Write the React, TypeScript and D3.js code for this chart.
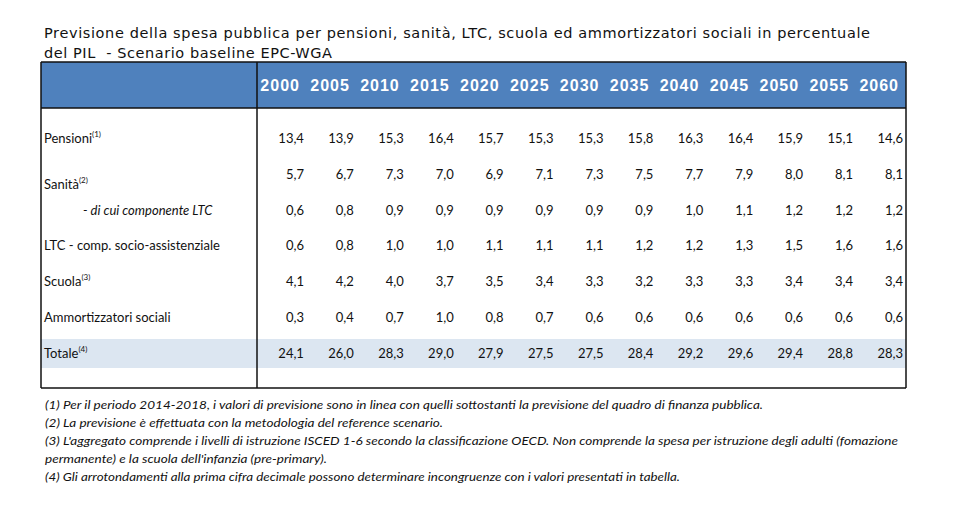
import React from "react";
import * as d3 from "d3";

const titleLines = [
  "Previsione della spesa pubblica per pensioni, sanità, LTC, scuola ed ammortizzatori sociali in percentuale",
  "del PIL  - Scenario baseline EPC-WGA",
];

const years = ["2000", "2005", "2010", "2015", "2020", "2025", "2030", "2035", "2040", "2045", "2050", "2055", "2060"];

const rowLabels = [
  "Pensioni",
  "Sanità",
  "- di cui componente LTC",
  "LTC - comp. socio-assistenziale",
  "Scuola",
  "Ammortizzatori sociali",
  "Totale",
];
const rowNotes = ["(1)", "(2)", "", "", "(3)", "", "(4)"];

const pensioni = [13.4, 13.9, 15.3, 16.4, 15.7, 15.3, 15.3, 15.8, 16.3, 16.4, 15.9, 15.1, 14.6];
const sanita = [5.7, 6.7, 7.3, 7.0, 6.9, 7.1, 7.3, 7.5, 7.7, 7.9, 8.0, 8.1, 8.1];
const diCuiLTC = [0.6, 0.8, 0.9, 0.9, 0.9, 0.9, 0.9, 0.9, 1.0, 1.1, 1.2, 1.2, 1.2];
const ltcSocio = [0.6, 0.8, 1.0, 1.0, 1.1, 1.1, 1.1, 1.2, 1.2, 1.3, 1.5, 1.6, 1.6];
const scuola = [4.1, 4.2, 4.0, 3.7, 3.5, 3.4, 3.3, 3.2, 3.3, 3.3, 3.4, 3.4, 3.4];
const ammortizzatori = [0.3, 0.4, 0.7, 1.0, 0.8, 0.7, 0.6, 0.6, 0.6, 0.6, 0.6, 0.6, 0.6];
const totale = [24.1, 26.0, 28.3, 29.0, 27.9, 27.5, 27.5, 28.4, 29.2, 29.6, 29.4, 28.8, 28.3];

const rows = [pensioni, sanita, diCuiLTC, ltcSocio, scuola, ammortizzatori, totale];

const footnotes = [
  "(1) Per il periodo 2014-2018, i valori di previsione sono in linea con quelli sottostanti la previsione del quadro di finanza pubblica.",
  "(2) La previsione è effettuata con la metodologia del reference scenario.",
  "(3) L'aggregato comprende i livelli di istruzione ISCED 1-6 secondo la classificazione OECD. Non comprende la spesa per istruzione degli adulti (fomazione",
  "permanente) e la scuola dell'infanzia (pre-primary).",
  "(4) Gli arrotondamenti alla prima cifra decimale possono determinare incongruenze con i valori presentati in tabella.",
];
const footnoteWidths = [718, 398, 853, 282, 635];

const fmt = (v: number) => v.toFixed(1).replace(".", ",");

export default function App() {
  const W = 978;
  const H = 528;
  const left = 41;
  const right = 906;
  const top = 62;
  const headerBottom = 108;
  const bottom = 388;
  const divider = 257;

  const x = d3.scaleBand<string>().domain(years).range([divider, right]);
  const y = d3.scalePoint<string>().domain(rowLabels).range([143, 357.5]);
  const fy = d3.scalePoint<string>().domain(footnotes).range([409, 481]);

  const dataFont = "Lato, 'Open Sans', sans-serif";
  const totY = y("Totale")!;

  return (
    <svg width={W} height={H} style={{ position: "absolute", left: 0, top: 0, background: "#fff" }}>
      <rect x={0} y={0} width={W} height={H} fill="#fff" />
      {titleLines.map((t, i) => (
        <text
          key={i}
          x={44}
          y={38 + i * 20}
          fontFamily="'DejaVu Sans', Verdana, sans-serif"
          fontSize={14.5}
          fill="#111"
          textLength={i === 0 ? 826 : 288}
          lengthAdjust="spacing"
          style={{ whiteSpace: "pre" }}
        >
          {t}
        </text>
      ))}

      {/* header band */}
      <rect x={left} y={top} width={right - left} height={headerBottom - top} fill="#4F81BD" />
      {/* totale band */}
      <rect x={left} y={totY - 18.5} width={right - left} height={29} fill="#DCE6F1" />

      {years.map((yr) => (
        <text
          key={yr}
          x={x(yr)! + x.bandwidth() - 7}
          y={90.5}
          textAnchor="end"
          fontFamily="'Liberation Sans', Arial, sans-serif"
          fontWeight="bold"
          fontSize={16}
          letterSpacing={1}
          fill="#fff"
        >
          {yr}
        </text>
      ))}

      {rowLabels.map((lab, ri) => {
        const isSub = ri === 2;
        const yy = y(lab)! + (ri === 1 ? 10 : 0);
        return (
          <text
            key={lab}
            x={isSub ? 83 : 44}
            y={yy}
            fontFamily={dataFont}
            fontSize={13}
            fontStyle={isSub ? "italic" : "normal"}
            fill="#111"
          >
            {lab}
            {rowNotes[ri] && (
              <tspan fontSize={8} dy={-6}>
                {rowNotes[ri]}
              </tspan>
            )}
          </text>
        );
      })}

      {rows.map((vals, ri) =>
        vals.map((v, ci) => (
          <text
            key={`${ri}-${ci}`}
            x={x(years[ci])! + x.bandwidth() - 3}
            y={y(rowLabels[ri])!}
            textAnchor="end"
            fontFamily={dataFont}
            fontSize={13}
            fill="#111"
          >
            {fmt(v)}
          </text>
        ))
      )}

      {/* borders */}
      <g stroke="#111" strokeWidth={1.5} fill="none">
        <line x1={left} x2={right} y1={top} y2={top} />
        <line x1={left} x2={right} y1={headerBottom} y2={headerBottom} />
        <line x1={left} x2={right} y1={bottom} y2={bottom} />
        <line x1={left} x2={left} y1={top} y2={bottom} />
        <line x1={right} x2={right} y1={top} y2={bottom} />
        <line x1={divider} x2={divider} y1={top} y2={bottom} />
      </g>

      {footnotes.map((f, i) => (
        <text
          key={i}
          x={45}
          y={fy(f)!}
          fontFamily={dataFont}
          fontStyle="italic"
          fontSize={12}
          fill="#111"
          textLength={footnoteWidths[i]}
          lengthAdjust="spacingAndGlyphs"
        >
          {f}
        </text>
      ))}
    </svg>
  );
}
